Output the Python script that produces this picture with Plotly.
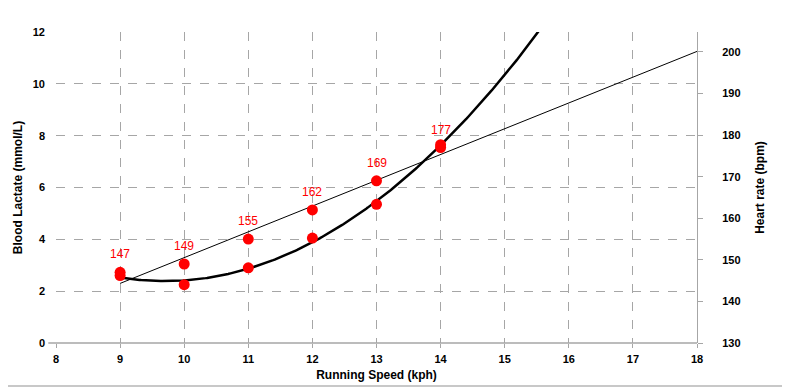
import numpy as np
import plotly.graph_objects as go

speed = [9, 10, 11, 12, 13, 14]
lactate = [2.6, 2.25, 2.9, 4.05, 5.35, 7.65]
heart_rate = [147, 149, 155, 162, 169, 177]
hr_labels = [str(v) for v in heart_rate]

x_ticks = list(range(8, 19))
y_ticks = list(range(0, 13, 2))
y2_ticks = list(range(130, 201, 10))

# Trendlines (as in the spreadsheet): quadratic for lactate, linear for heart rate
lac_coef = np.polyfit(speed, lactate, 2)
hr_coef = np.polyfit(speed, heart_rate, 1)
lac_x = np.linspace(9, 16, 300)
lac_y = np.polyval(lac_coef, lac_x)
hr_x = np.array([9, 18])
hr_y = np.polyval(hr_coef, hr_x)

RED = "#FF0000"
GRAY = "#A6A6A6"
FAM = "Liberation Sans"
TICKFONT = dict(family=FAM, size=11, color="#000000")
TITLEFONT = dict(family=FAM, size=12, color="#000000")

fig = go.Figure()

fig.add_trace(go.Scatter(x=lac_x, y=lac_y, mode="lines",
                         line=dict(color="black", width=2.5), yaxis="y",
                         hoverinfo="skip", showlegend=False))
fig.add_trace(go.Scatter(x=hr_x, y=hr_y, mode="lines",
                         line=dict(color="black", width=1), yaxis="y2",
                         hoverinfo="skip", showlegend=False))
fig.add_trace(go.Scatter(x=speed, y=lactate, mode="markers",
                         marker=dict(color=RED, size=11), yaxis="y",
                         showlegend=False))
fig.add_trace(go.Scatter(x=speed, y=heart_rate, mode="markers",
                         marker=dict(color=RED, size=11), yaxis="y2",
                         showlegend=False))

for xv, yv, lab in zip(speed, heart_rate, hr_labels):
    fig.add_annotation(x=xv, y=yv, xref="x", yref="y2", text=lab,
                       showarrow=False, yshift=18,
                       font=dict(family=FAM, size=12, color=RED))

grid = dict(showgrid=True, gridcolor=GRAY, griddash="dash", gridwidth=1)

# page body has an 8px margin, so the figure is sized/offset to compensate
fig.update_layout(
    width=782, height=380,
    margin=dict(l=48, r=93, t=24, b=45, autoexpand=False),
    paper_bgcolor="white", plot_bgcolor="white",
    xaxis=dict(range=[8, 18], tickvals=x_ticks,
               ticktext=["<b>%d</b>" % v for v in x_ticks],
               tickfont=TICKFONT, ticks="outside", ticklen=4, tickcolor=GRAY,
               ticklabelstandoff=2, zeroline=False, automargin=False,
               showline=False, **grid,
               title=dict(text="<b>Running Speed (kph)</b>", font=TITLEFONT, standoff=6)),
    yaxis=dict(range=[0, 12], tickvals=y_ticks,
               ticktext=["<b>%d</b>" % v for v in y_ticks],
               tickfont=TICKFONT, ticks="", ticklabelstandoff=10,
               zeroline=False, showline=False, automargin=False, **grid,
               title=dict(text="<b>Blood Lactate (mmol/L)</b>", font=TITLEFONT, standoff=7)),
    yaxis2=dict(range=[130, 204.8], overlaying="y", side="right",
                tickvals=y2_ticks, ticktext=["<b>%d</b>" % v for v in y2_ticks],
                tickfont=TICKFONT, ticks="outside", ticklen=5, tickcolor=GRAY,
                ticklabelstandoff=17, automargin=False,
                showline=True, linecolor=GRAY, linewidth=1,
                showgrid=False, zeroline=False,
                title=dict(text="<b>Heart rate (bpm)</b>", font=TITLEFONT, standoff=16)),
    font=dict(family=FAM),
)

# bottom axis line and chart frame edge
fig.add_shape(type="line", xref="paper", yref="paper", x0=-0.012, x1=1, y0=0, y1=0,
              line=dict(color=GRAY, width=1.5))
fig.add_shape(type="line", xref="paper", yref="paper", x0=-0.1, x1=1.133,
              y0=-0.138, y1=-0.138, line=dict(color="#C8C8C8", width=2))

fig.write_html("out.html")
